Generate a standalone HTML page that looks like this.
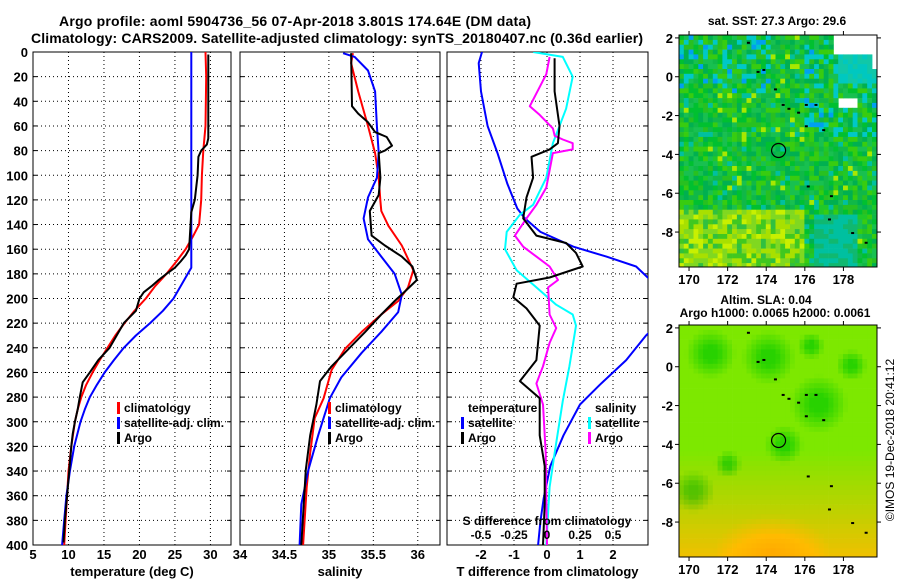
<!DOCTYPE html>
<html><head><meta charset="utf-8"><style>
body{margin:0;background:#fff}
svg{display:block;font-family:"Liberation Sans",sans-serif;font-weight:bold}
</style></head><body>
<svg id="s" width="900" height="580" viewBox="0 0 900 580">
<text x="295" y="26" font-size="14" text-anchor="middle" textLength="472">Argo profile: aoml 5904736_56 07-Apr-2018 3.801S 174.64E (DM data)</text>
<text x="337" y="43" font-size="14" text-anchor="middle" textLength="612">Climatology: CARS2009. Satellite-adjusted climatology: synTS_20180407.nc (0.36d earlier)</text>
<g id="g"></g>
</svg>
<script>
// ---------- data ----------
const depthTicks=[0,20,40,60,80,100,120,140,160,180,200,220,240,260,280,300,320,340,360,380,400];
const tTicks=[5,10,15,20,25,30];
const sTicks=[34,34.5,35,35.5,36];
const dTTicks=[-2,-1,0,1,2];
const dSTicks=[-0.5,-0.25,0,0.25,0.5];
const dSTickLabels=["-0.5","-0.25","0","0.25","0.5"];
const lonTicks=[170,172,174,176,178];
const latTicks=[2,0,-2,-4,-6,-8];
// temperature profiles [depth,value]
const tClimD=[0,20,60,80,100,120,140,150,160,170,180,190,200,210,220,230,240,250,260,270,280,290,300,320,340,360,380,400];
const tClimV=[29.3,29.4,29.3,29.0,28.8,28.7,28.4,27.5,26.5,25.2,23.8,22.2,20.9,19.3,17.9,16.6,15.5,14.4,13.4,12.5,11.8,11.3,10.9,10.4,10.0,9.8,9.6,9.4];
const tArgoD=[2,70,75,80,85,100,120,130,160,165,170,175,180,185,190,195,200,210,220,240,250,260,268,280,290,300,310,320,340,360,380,398];
const tArgoV=[29.7,29.7,29.5,28.7,28.3,28.2,27.8,27.3,27.0,26.5,25.8,25.0,23.8,22.7,21.7,20.6,20.0,19.5,17.8,15.8,14.2,13.0,12.0,11.6,11.3,10.9,10.6,10.4,10.1,9.8,9.5,9.3];
const tSatD=[0,175,180,190,200,210,220,230,240,250,260,270,280,290,300,320,340,360,380,400];
const tSatV=[27.3,27.3,26.8,25.8,24.8,23.3,21.5,19.5,17.8,16.4,15.1,14.0,13.0,12.3,11.7,10.8,10.2,9.7,9.4,9.1];
// salinity profiles
const sClimD=[1,9,32,60,82,102,121,129,141,157,177,191,202,213,227,241,258,281,297,325,353,400];
const sClimV=[35.27,35.25,35.33,35.44,35.52,35.56,35.58,35.59,35.67,35.82,35.95,35.89,35.78,35.59,35.37,35.18,35.03,34.94,34.84,34.79,34.75,34.71];
const sSatD=[1,4,15,32,60,82,102,118,135,152,166,180,197,211,227,244,264,281,311,339,367,400];
const sSatV=[35.16,35.29,35.44,35.52,35.54,35.56,35.54,35.44,35.39,35.44,35.59,35.74,35.82,35.78,35.59,35.37,35.14,35.01,34.88,34.77,34.69,34.67];
const sArgoD=[1,44,50,57,65,69,76,80,82,102,116,129,149,157,166,174,185,194,202,213,227,244,255,267,286,311,339,400];
const sArgoV=[35.25,35.26,35.33,35.44,35.52,35.65,35.71,35.63,35.56,35.58,35.56,35.46,35.48,35.63,35.82,35.94,35.99,35.86,35.74,35.59,35.41,35.18,35.03,34.90,34.86,34.79,34.74,34.69];
// differences
const dTSatD=[0,9,32,60,82,107,127,135,146,158,166,174,183,200,215,230,250,270,286,311,336,362,381,400];
const dTSatV=[-1.97,-2.07,-2.0,-1.8,-1.5,-1.2,-0.9,-0.67,-0.2,0.8,1.8,2.7,3.05,3.8,3.6,3.0,2.4,1.6,1.0,0.5,0.1,-0.1,-0.2,-0.27];
const dTArgoD=[5,32,60,74,79,85,102,118,135,149,155,163,174,183,188,199,208,222,250,267,281,297,311,336,367,400];
const dTArgoV=[0.23,0.23,0.38,0.33,0.08,-0.47,-0.42,-0.62,-0.72,-0.32,0.58,0.88,1.08,0.08,-0.92,-1.02,-0.62,-0.22,-0.32,-0.82,-0.22,-0.22,-0.22,-0.07,-0.07,-0.12];
const dSSatD=[0,4,20,46,74,102,124,132,146,160,177,191,205,213,222,255,283,325,353,400];
const dSSatV=[-0.105,0.12,0.195,0.145,0.045,-0.005,-0.105,-0.205,-0.305,-0.318,-0.23,-0.08,0.07,0.195,0.22,0.17,0.12,0.058,0.02,-0.005];
const dSArgoD=[4,18,44,51,62,68,71,74,79,82,96,110,124,135,149,158,166,174,185,191,213,224,236,255,269,286,325,400];
const dSArgoV=[0.02,-0.005,-0.13,-0.055,0.045,0.058,0.12,0.195,0.195,0.045,0.02,-0.005,-0.08,-0.155,-0.243,-0.18,-0.08,0.02,0.083,0.008,0.02,0.07,0.02,-0.03,-0.08,-0.03,-0.01,0];

// ---------- helpers ----------
const NS="http://www.w3.org/2000/svg";
const G=document.getElementById('g');
function mk(tag,at,par){const e=document.createElementNS(NS,tag);for(const k in at)e.setAttribute(k,at[k]);(par||G).appendChild(e);return e;}
const TOP=52,BOT=545;
const yD=d=>TOP+d*(BOT-TOP)/400;
const P1={l:33,r:231,min:5,max:32.9};
const P2={l:240,r:440,min:34,max:36.25};
const P3={l:447,r:648,min:-3.03,max:3.06};
const xf=P=>v=>P.l+(v-P.min)*(P.r-P.l)/(P.max-P.min);
const x1=xf(P1),x2=xf(P2),x3=xf(P3),x3s=s=>x3(s*4);

function panel(P,name,xs,xticks,xlabels,title,yl){
  const fr=mk('rect',{x:P.l,y:TOP,width:P.r-P.l,height:BOT-TOP,fill:'#fff',stroke:'#000','stroke-width':1});
  
  
  depthTicks.forEach((d,i)=>{
    if(d>0&&d<400){const gl=mk('line',{x1:P.l,x2:P.r,y1:yD(d),y2:yD(d),stroke:'#000','stroke-dasharray':'1,3','stroke-width':1});
      
      }
    mk('line',{x1:P.l,x2:P.l+4,y1:yD(d),y2:yD(d),stroke:'#000'});
    mk('line',{x1:P.r,x2:P.r-4,y1:yD(d),y2:yD(d),stroke:'#000'});
    if(yl){const t=mk('text',{x:28,y:yD(d)+5,'font-size':13,'text-anchor':'end'});t.textContent=d;
      
      }
  });
  xticks.forEach((v,i)=>{
    const x=xs(v);
    if(x>P.l+1&&x<P.r-1){const gl=mk('line',{x1:x,x2:x,y1:TOP,y2:BOT,stroke:'#000','stroke-dasharray':'1,3'});
      
      }
    const t=mk('text',{x:x,y:559,'font-size':13,'text-anchor':'middle'});t.textContent=xlabels[i];
    
    
  });
  const tt=mk('text',{x:(P.l+P.r)/2,y:576,'font-size':13,'text-anchor':'middle'});tt.textContent=title;
  
  
}
function line(D,V,xs,col,name,clip){
  const pts=D.map((d,i)=>xs(V[i]).toFixed(1)+','+yD(d).toFixed(1)).join(' ');
  const p=mk('polyline',{points:pts,fill:'none',stroke:col,'stroke-width':2,'stroke-linejoin':'round'});
  if(clip)p.setAttribute('clip-path','url(#'+clip+')');
  
  
}
function leg(x,y,col,txt,name){
  mk('rect',{x:x,y:y-10,width:3,height:12,fill:col});
  const t=mk('text',{x:x+7,y:y,'font-size':12});t.textContent=txt;
  
  
}

// panel 1
panel(P1,'temperature-panel',x1,tTicks,tTicks,'temperature (deg C)',true);
line(tClimD,tClimV,x1,'#f00','temp-climatology-line');
line(tSatD,tSatV,x1,'#00f','temp-satellite-line');
line(tArgoD,tArgoV,x1,'#000','temp-argo-line');
leg(117,412,'#f00','climatology','legend-climatology');
leg(117,427,'#00f','satellite-adj. clim.','legend-satellite-adj');
leg(117,442,'#000','Argo','legend-argo');
// panel 2
panel(P2,'salinity-panel',x2,sTicks,sTicks,'salinity',false);
line(sClimD,sClimV,x2,'#f00','sal-climatology-line');
line(sSatD,sSatV,x2,'#00f','sal-satellite-line');
line(sArgoD,sArgoV,x2,'#000','sal-argo-line');
leg(328,412,'#f00','climatology','legend2-climatology');
leg(328,427,'#00f','satellite-adj. clim.','legend2-satellite-adj');
leg(328,442,'#000','Argo','legend2-argo');
// panel 3
const defs=mk('defs',{});
const cp=mk('clipPath',{id:'c3'},defs);mk('rect',{x:P3.l,y:TOP,width:P3.r-P3.l,height:BOT-TOP},cp);
panel(P3,'difference-panel',x3,dTTicks,dTTicks,'T difference from climatology',false);
line(dTSatD,dTSatV,x3,'#00f','dT-satellite-line','c3');
line(dSSatD,dSSatV,x3s,'#0ff','dS-satellite-line','c3');
line(dSArgoD,dSArgoV,x3s,'#f0f','dS-argo-line','c3');
line(dTArgoD,dTArgoV,x3,'#000','dT-argo-line','c3');
{const t=mk('text',{x:468,y:412,'font-size':12});t.textContent='temperature';
 
 }
{const t=mk('text',{x:595,y:412,'font-size':12});t.textContent='salinity';
 
 }
leg(461,427,'#00f','satellite','legend3-t-satellite');
leg(461,442,'#000','Argo','legend3-t-argo');
leg(588,427,'#0ff','satellite','legend3-s-satellite');
leg(588,442,'#f0f','Argo','legend3-s-argo');
{const t=mk('text',{x:547,y:525,'font-size':12,'text-anchor':'middle'});t.textContent='S difference from climatology';
 
 }
dSTicks.forEach((v,i)=>{const t=mk('text',{x:x3s(v),y:539,'font-size':12,'text-anchor':'middle'});t.textContent=dSTickLabels[i];
 
 });

// ---------- maps ----------
function hash(i,j){let h=(i*374761393+j*668265263)>>>0;h=((h^(h>>>13))*1274126177)>>>0;return ((h^(h>>>16))>>>0)/4294967296;}
const M={l:679,r:877,lon0:169.48,lon1:179.74,lat0:2.15,lat1:-9.8};
function mapFrame(top,name,draw){
  const h=232;
  const lx=lon=>M.l+(lon-M.lon0)*(M.r-M.l)/(M.lon1-M.lon0);
  const ly=lat=>top+(M.lat0-lat)*h/(M.lat0-M.lat1);
  const g=mk('g',{});
  
  
  const cs=0.25;
  for(let lon=M.lon0;lon<M.lon1-0.01;lon+=cs){for(let lat=M.lat0;lat>M.lat1+0.01;lat-=cs){
    const c=draw(lon,lat,Math.round(lon*4),Math.round(lat*4));
    const w=Math.min(5.2,M.r-lx(lon)),hh=Math.min(5.2,top+h-ly(lat));
    if(c)mk('rect',{x:lx(lon).toFixed(1),y:ly(lat).toFixed(1),width:w.toFixed(1),height:hh.toFixed(1),fill:c},g);
  }}
  mk('rect',{x:M.l,y:top,width:M.r-M.l,height:h,fill:'none',stroke:'#000'});
  lonTicks.forEach(v=>{const x=lx(v);mk('line',{x1:x,x2:x,y1:top,y2:top-4,stroke:'#000'});mk('line',{x1:x,x2:x,y1:top+h,y2:top+h+4,stroke:'#000'});
    const t=mk('text',{x:x,y:top+h+17,'font-size':13,'text-anchor':'middle'});t.textContent=v;
    
    });
  latTicks.forEach(v=>{const y=ly(v);mk('line',{x1:M.l,x2:M.l-4,y1:y,y2:y,stroke:'#000'});mk('line',{x1:M.r,x2:M.r+4,y1:y,y2:y,stroke:'#000'});
    const t=mk('text',{x:673,y:y+5,'font-size':13,'text-anchor':'end'});t.textContent=v;
    
    });
  const c=mk('circle',{cx:lx(174.64),cy:ly(-3.8),r:7,fill:'none',stroke:'#000','stroke-width':1.2});
  
  
  [[173,1.8],[173.5,0.3],[173.8,0.4],[174.4,-0.6],[174.8,-1.4],[175.1,-1.6],[175.6,-1.8],[176,-1.4],[176.5,-1.4],[176,-2.5],[176.9,-2.7],[176.1,-5.6],[177.3,-6.1],[177.2,-7.3],[178.4,-8],[179.1,-8.5]].forEach(p=>mk('rect',{x:lx(p[0]),y:ly(p[1]),width:3,height:2,fill:'#000'}));
}
const sstPal=['#20c828','#10b848','#00c030','#38cc10','#00b050','#18c050','#28c020'];
mapFrame(35,'sst-map',(lon,lat,i,j)=>{
  if(lat>1.2&&lon>177.3)return null;
  if(lat>0.4&&lon>178.6&&lat<1.2&&lon>179.3)return null;
  if(lat<-1&&lat>-1.6&&lon>177.7&&lon<178.6)return null;
  const r=hash(i,j);
  if(lat>-0.2&&lon>177.6)return r<0.5?'#00c8c0':'#10c8a8';
  if(lat<-6.6&&lon<175.8){return r<0.35?'#80d820':r<0.6?'#a8e000':r<0.75?'#40c820':r<0.9?'#c8f000':'#30c040';}
  if(lat<-7&&lon>176.3&&lon<178.6)return r<0.6?'#00c0a0':'#10b870';
  if((lat>-3.2&&lon>175.8)||(lat>-0.8&&lon<174.2))return r<0.18?'#00c8c8':r<0.24?'#00a0f0':sstPal[Math.floor(r*7)];
  if(r<0.05)return '#a8e800';
  if(r>0.95)return '#00c0a0';
  return sstPal[Math.floor(r*7)];
});
const blobs=[[171,0.8,1.3],[174,0.6,1.4],[176.6,-1.8,1.5],[174.8,-3.9,1.0],[170.1,-6.3,1.1],[171.9,-4.9,0.7],[178.3,0.2,0.8],[176.2,1.2,0.7]];
mapFrame(325,'sla-map',(lon,lat)=>{
  let t=Math.max(0,Math.min(1,(-lat-4.2)/5.5));
  let d=Math.hypot((lon-174.2)/2.5,(lat+9.4)/1.6);t+=Math.max(0,0.6-d*0.5);
  let g=0;blobs.forEach(b=>{const q=Math.hypot(lon-b[0],lat-b[1]);if(q<b[2])g=Math.max(g,Math.min(1,1.4*(1-q/b[2])));});
  let R=125+t*115,Gc=232-t*40-g*22;R-=g*85;
  R=Math.max(0,Math.min(255,R));
  return 'rgb('+Math.round(R)+','+Math.round(Gc)+',0)';
});
[['sat. SST: 27.3 Argo: 29.6',777,25,'sst-map-title'],['Altim. SLA: 0.04',766,304,'sla-map-title'],['Argo h1000: 0.0065 h2000: 0.0061',775,317,'sla-argo-heights']].forEach(a=>{
  const t=mk('text',{x:a[1],y:a[2],'font-size':12,'text-anchor':'middle'});t.textContent=a[0];
  
  });
{const t=mk('text',{x:0,y:0,'font-size':12,'font-weight':'normal','text-anchor':'middle',transform:'translate(894,440) rotate(-90)'});
 t.textContent='©IMOS 19-Dec-2018 20:41:12';
 
 }
</script>
</body></html>
